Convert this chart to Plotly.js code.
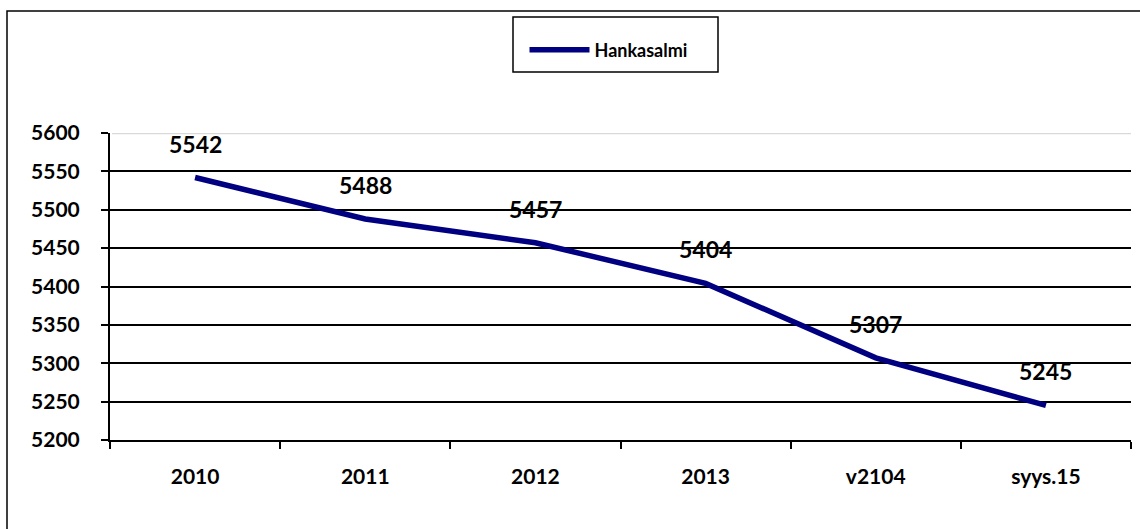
<!DOCTYPE html>
<html>
<head>
<meta charset="utf-8">
<script src="https://cdn.plot.ly/plotly-3.0.1.min.js"></script>
<style>html,body{margin:0;padding:0;background:#fff;}#chart{width:1140px;height:529px;}</style>
</head>
<body>
<div id="chart"></div>
<script>
const categories = ["2010", "2011", "2012", "2013", "v2104", "syys.15"];
const values = [5542, 5488, 5457, 5404, 5307, 5245];
const seriesName = "Hankasalmi";
const yTicks = [5200, 5250, 5300, 5350, 5400, 5450, 5500, 5550, 5600];

const FONT = "Lato, 'Open Sans', sans-serif";

const trace = {
  x: categories,
  y: values,
  type: "scatter",
  mode: "lines",
  name: seriesName,
  line: {color: "#000080", width: 5.5},
  showlegend: true
};

const annotations = categories.map((c, i) => ({
  x: i, y: values[i], xref: "x", yref: "y",
  text: "<b>" + values[i] + "</b>",
  showarrow: false, yshift: 34,
  font: {family: FONT, size: 23, color: "#000"}
}));

const layout = {
  width: 1140, height: 529,
  margin: {l: 110, r: 9, t: 133, b: 89},
  paper_bgcolor: "#fff", plot_bgcolor: "#fff",
  font: {family: FONT, color: "#000"},
  showlegend: true,
  legend: {
    x: 0.5 - 12 / 1021, xanchor: "center", y: 1.27, yanchor: "middle",
    bgcolor: "rgba(0,0,0,0)", borderwidth: 0,
    itemwidth: 60,
    font: {family: FONT, size: 18, color: "#000", weight: "bold"}
  },
  xaxis: {
    type: "category",
    categoryorder: "array", categoryarray: categories,
    range: [-0.5, categories.length - 0.5],
    autorange: false,
    showline: true, linecolor: "#000", linewidth: 2,
    ticks: "outside", tickson: "boundaries", ticklen: 7, tickcolor: "#000", tickwidth: 2,
    showgrid: false,
    tickangle: 0,
    tickfont: {family: FONT, size: 21, color: "#000", weight: "bold"},
    ticklabelstandoff: 17,
    fixedrange: true
  },
  yaxis: {
    range: [5200, 5600],
    autorange: false,
    tickvals: yTicks,
    ticktext: yTicks.map(String),
    showline: true, linecolor: "#000", linewidth: 2,
    ticks: "outside", ticklen: 7, tickcolor: "#000", tickwidth: 2,
    showgrid: true, gridcolor: "#000", gridwidth: 2,
    zeroline: false,
    tickfont: {family: FONT, size: 21, color: "#000", weight: "bold"},
    ticklabelstandoff: 17,
    fixedrange: true
  },
  annotations: annotations,
  shapes: [
    {type: "line", xref: "paper", yref: "y", x0: 0.002, x1: 1, y0: 5600, y1: 5600,
     line: {color: "#d9d9d9", width: 2.5}},
    {type: "rect", xref: "paper", yref: "paper",
     x0: (7 - 110) / 1021, x1: 1.1, y0: -0.4, y1: (440 - 11) / 307,
     line: {color: "#000", width: 1.5}, fillcolor: "rgba(0,0,0,0)"},
    {type: "rect", xref: "paper", yref: "paper",
     x0: (513 - 110) / 1021, x1: (718 - 110) / 1021,
     y0: (440 - 72) / 307, y1: (440 - 17) / 307,
     line: {color: "#000", width: 1.5}, fillcolor: "rgba(0,0,0,0)"}
  ]
};

Plotly.newPlot("chart", [trace], layout, {displayModeBar: false, staticPlot: true});
</script>
</body>
</html>
